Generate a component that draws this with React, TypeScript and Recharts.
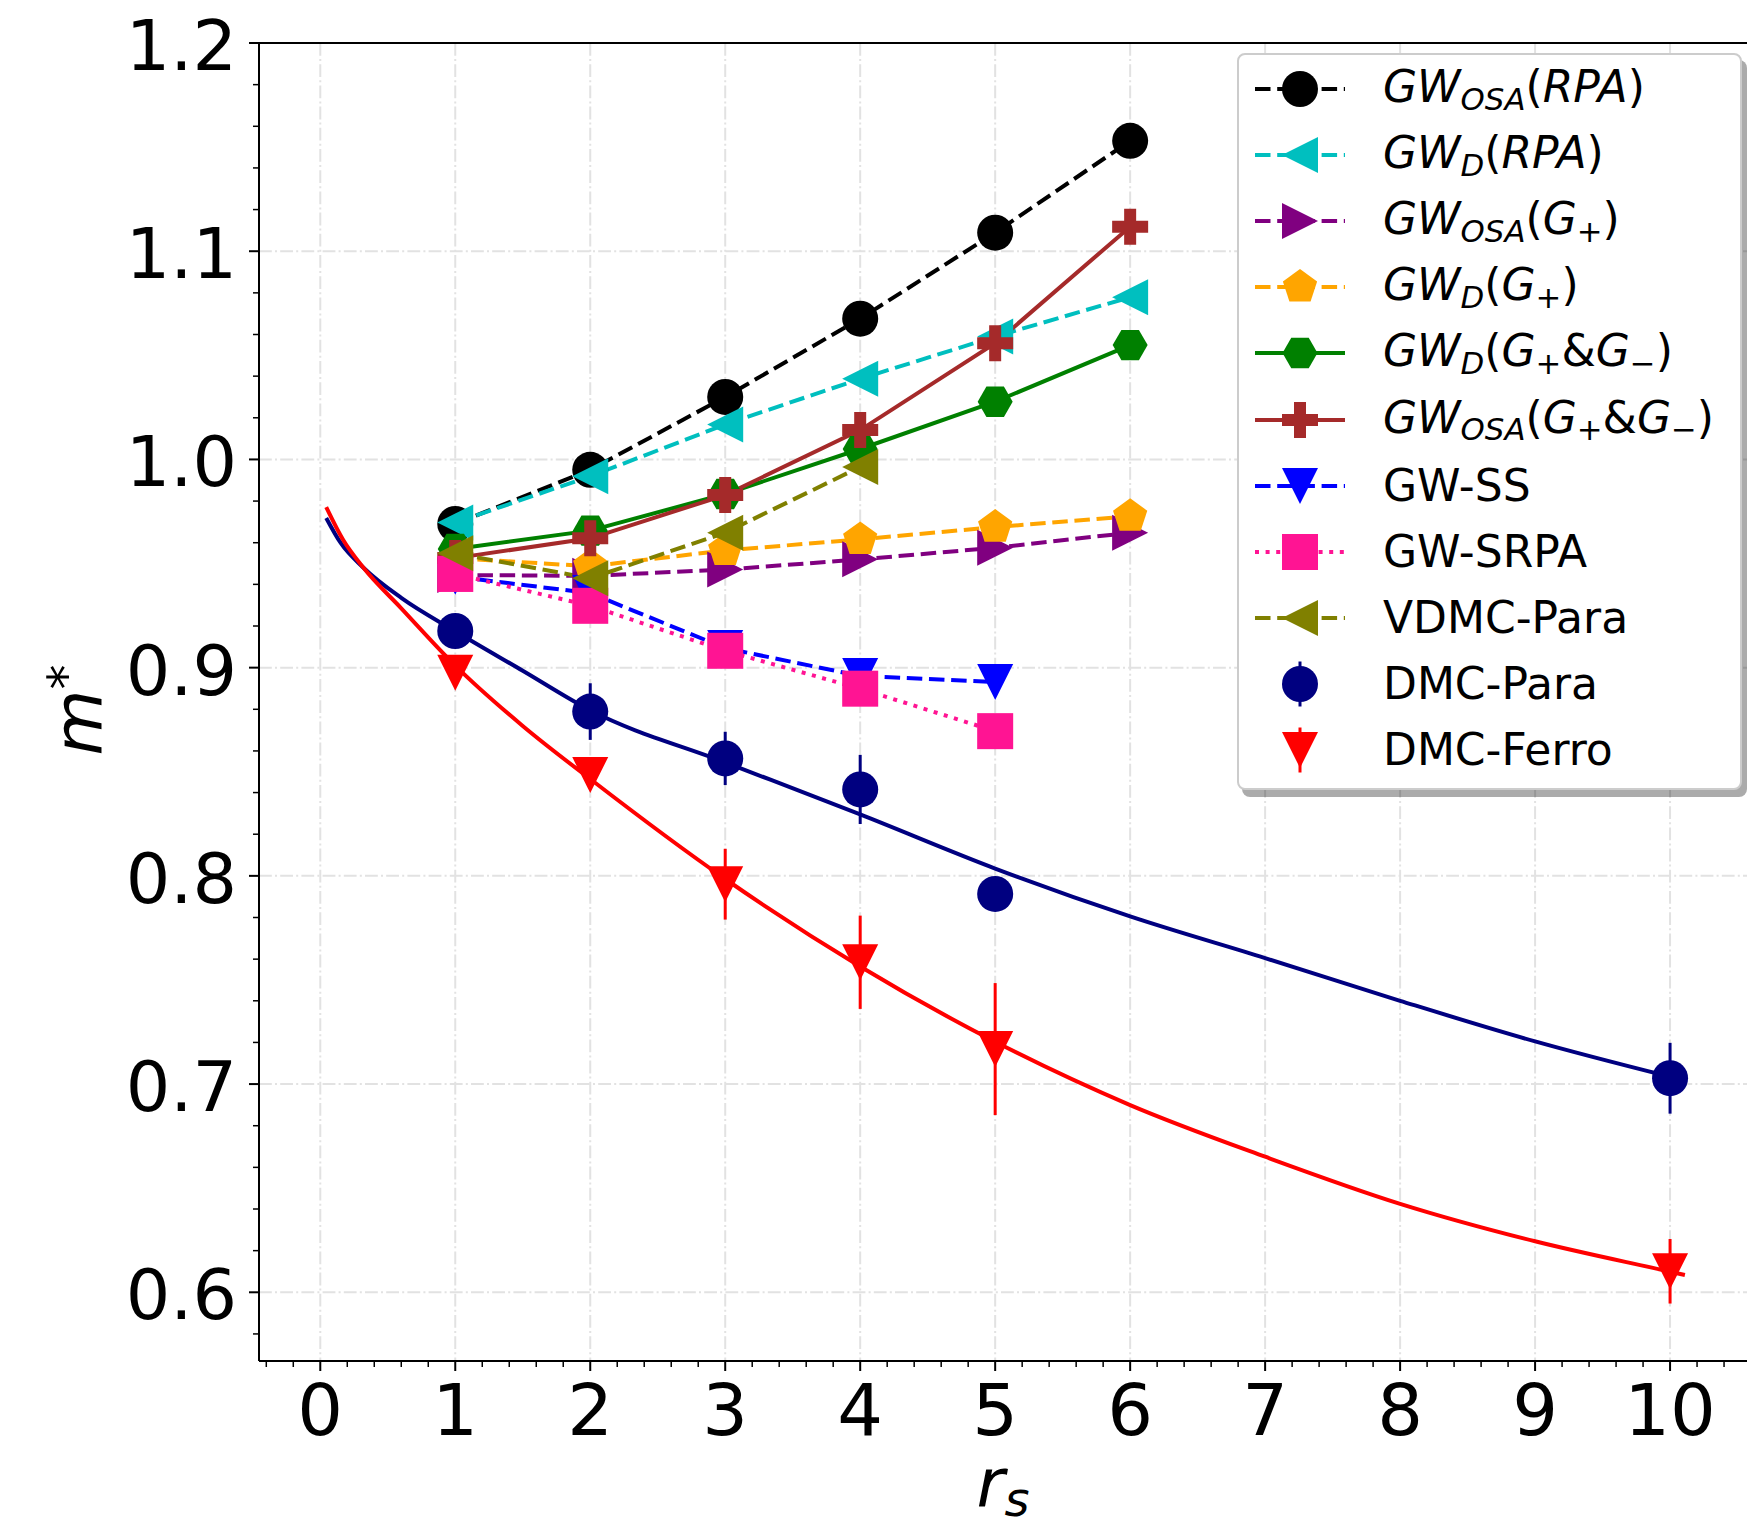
import React from "react";
import { ComposedChart, Line, XAxis, YAxis, CartesianGrid, ErrorBar, Legend, ReferenceLine } from "recharts";

// r_s values of each data set
const rsGw = [1, 2, 3, 4, 5, 6];
const rsStatic = [1, 2, 3, 4, 5];
const rsVdmc = [1, 2, 3, 4];
const rsDmc = [1, 2, 3, 4, 5, 10];

// effective mass m*
const gwOsaRpa = [0.969, 0.995, 1.03, 1.0676, 1.1089, 1.153];
const gwDRpa = [0.9697, 0.9919, 1.0168, 1.0387, 1.059, 1.0779];
const gwOsaGp = [0.9445, 0.9441, 0.9471, 0.952, 0.9576, 0.9648];
const gwDGp = [0.9526, 0.9487, 0.9563, 0.9616, 0.9675, 0.9727];
const gwDGpm = [0.957, 0.9658, 0.9834, 1.005, 1.0277, 1.0549];
const gwOsaGpm = [0.9526, 0.9621, 0.9829, 1.0141, 1.0558, 1.1118];
const gwSS = [0.9437, 0.9358, 0.9094, 0.896, 0.8931];
const gwSRPA = [0.945, 0.9297, 0.9081, 0.8899, 0.8695];
const vdmcPara = [0.9549, 0.9429, 0.9648, 0.9964];
const dmcPara = [0.9176, 0.8789, 0.8564, 0.8415, 0.7913, 0.7028];
const dmcParaErr = [0.002, 0.0136, 0.0128, 0.0166, 0.005, 0.017];
const dmcFerro = [0.8976, 0.8484, 0.796, 0.7585, 0.7168, 0.6101];
const dmcFerroErr = [0.002, 0.003, 0.017, 0.0224, 0.0317, 0.0155];

// fit curves
const fitParaX = [0.044, 0.15, 0.32, 0.6, 1, 1.5, 2, 3, 4, 5, 6, 7, 8, 9, 10];
const fitParaY = [0.9719, 0.96, 0.948, 0.9335, 0.9175, 0.8985, 0.8795, 0.8545, 0.8295, 0.8035, 0.7805, 0.7605, 0.74, 0.7205, 0.7035];
const fitFerroX = [0.044, 0.17, 0.32, 0.6, 1, 1.5, 2, 3, 4, 5, 6, 7, 8, 9, 10, 10.11];
const fitFerroY = [0.9771, 0.9613, 0.948, 0.9285, 0.901, 0.872, 0.8465, 0.7985, 0.7565, 0.7203, 0.6899, 0.6651, 0.6425, 0.6245, 0.6099, 0.6083];

// axes
const xMajor = [0, 1, 2, 3, 4, 5, 6, 7, 8, 9, 10];
const yMajor = [0.6, 0.7, 0.8, 0.9, 1.0, 1.1, 1.2];
const xTicks = Array.from({ length: 55 }, (_, i) => Math.round(-4 + i * 2) / 10);
const yTicks = Array.from({ length: 32 }, (_, i) => Math.round(58 + i * 2) / 100);

const FONT = "DejaVu Sans";
const DASHED = "15.5 6.7";
const DOTTED = "4 6.6";
const LW = 4;

const pts = (xs: number[], ys: number[], errs?: number[]) =>
  xs.map((x, i) => ({ x, y: ys[i], err: errs ? errs[i] : 0 }));

type Shape = "circle" | "left" | "right" | "down" | "pentagon" | "hexagon" | "plus" | "square";

function Marker({ shape, cx, cy, color }: { shape: Shape; cx: number; cy: number; color: string }) {
  const r = 18;
  switch (shape) {
    case "circle":
      return <circle cx={cx} cy={cy} r={r} fill={color} />;
    case "left":
      return <polygon points={`${cx - r},${cy} ${cx + r},${cy - r} ${cx + r},${cy + r}`} fill={color} />;
    case "right":
      return <polygon points={`${cx + r},${cy} ${cx - r},${cy - r} ${cx - r},${cy + r}`} fill={color} />;
    case "down":
      return <polygon points={`${cx - r},${cy - r} ${cx + r},${cy - r} ${cx},${cy + r}`} fill={color} />;
    case "square":
      return <rect x={cx - r} y={cy - r} width={2 * r} height={2 * r} fill={color} />;
    case "pentagon": {
      const p = [0, 1, 2, 3, 4]
        .map((k) => {
          const a = ((-90 + 72 * k) * Math.PI) / 180;
          return `${cx + r * Math.cos(a)},${cy + r * Math.sin(a)}`;
        })
        .join(" ");
      return <polygon points={p} fill={color} />;
    }
    case "hexagon": {
      const h = 17.5;
      const p = [0, 1, 2, 3, 4, 5]
        .map((k) => {
          const a = (60 * k * Math.PI) / 180;
          return `${cx + h * Math.cos(a)},${cy + h * Math.sin(a)}`;
        })
        .join(" ");
      return <polygon points={p} fill={color} />;
    }
    case "plus": {
      const t = r / 3;
      const p = [
        [-t, -r], [t, -r], [t, -t], [r, -t], [r, t], [t, t],
        [t, r], [-t, r], [-t, t], [-r, t], [-r, -t], [-t, -t],
      ]
        .map(([dx, dy]) => `${cx + dx},${cy + dy}`)
        .join(" ");
      return <polygon points={p} fill={color} />;
    }
  }
  return null;
}

const dotOf = (shape: Shape, color: string, name: string) => (p: any) =>
  p.cx == null ? <g key={`${name}-${p.index}`} /> : (
    <g key={`${name}-${p.index}`}>
      <Marker shape={shape} cx={p.cx} cy={p.cy} color={color} />
    </g>
  );

const I = ({ children }: { children: React.ReactNode }) => <span style={{ fontStyle: "italic" }}>{children}</span>;
const Sub = ({ children }: { children: React.ReactNode }) => (
  <span style={{ fontSize: "0.7em", position: "relative", top: "0.25em" }}>{children}</span>
);

const series = [
  { name: "osaRpa", xs: rsGw, ys: gwOsaRpa, color: "#000000", shape: "circle" as Shape, dash: DASHED,
    label: <><I>GW</I><Sub><I>OSA</I></Sub>(<I>RPA</I>)</> },
  { name: "dRpa", xs: rsGw, ys: gwDRpa, color: "#00bfbf", shape: "left" as Shape, dash: DASHED,
    label: <><I>GW</I><Sub><I>D</I></Sub>(<I>RPA</I>)</> },
  { name: "osaGp", xs: rsGw, ys: gwOsaGp, color: "#800080", shape: "right" as Shape, dash: DASHED,
    label: <><I>GW</I><Sub><I>OSA</I></Sub>(<I>G</I><Sub>+</Sub>)</> },
  { name: "dGp", xs: rsGw, ys: gwDGp, color: "#ffa500", shape: "pentagon" as Shape, dash: DASHED,
    label: <><I>GW</I><Sub><I>D</I></Sub>(<I>G</I><Sub>+</Sub>)</> },
  { name: "dGpm", xs: rsGw, ys: gwDGpm, color: "#008000", shape: "hexagon" as Shape, dash: undefined,
    label: <><I>GW</I><Sub><I>D</I></Sub>(<I>G</I><Sub>+</Sub>&amp;<I>G</I><Sub>−</Sub>)</> },
  { name: "osaGpm", xs: rsGw, ys: gwOsaGpm, color: "#a52a2a", shape: "plus" as Shape, dash: undefined,
    label: <><I>GW</I><Sub><I>OSA</I></Sub>(<I>G</I><Sub>+</Sub>&amp;<I>G</I><Sub>−</Sub>)</> },
  { name: "ss", xs: rsStatic, ys: gwSS, color: "#0000ff", shape: "down" as Shape, dash: DASHED, label: <>GW-SS</> },
  { name: "srpa", xs: rsStatic, ys: gwSRPA, color: "#ff1493", shape: "square" as Shape, dash: DOTTED, label: <>GW-SRPA</> },
  { name: "vdmc", xs: rsVdmc, ys: vdmcPara, color: "#808000", shape: "left" as Shape, dash: DASHED, label: <>VDMC-Para</> },
];

const dmcSeries = [
  { name: "dmcPara", xs: rsDmc, ys: dmcPara, errs: dmcParaErr, color: "#000080", shape: "circle" as Shape, label: <>DMC-Para</> },
  { name: "dmcFerro", xs: rsDmc, ys: dmcFerro, errs: dmcFerroErr, color: "#ff0000", shape: "down" as Shape, label: <>DMC-Ferro</> },
];

const XTick = (props: any) => {
  const { x, y, payload } = props;
  const v = payload.value;
  const major = Math.abs(v - Math.round(v)) < 1e-6;
  return (
    <g>
      <line x1={x} x2={x} y1={y} y2={y + (major ? 10 : 6)} stroke="#000" strokeWidth={major ? 2 : 1.5} />
      {major && (
        <text x={x} y={y + 74} textAnchor="middle" fontSize={72} fontFamily={FONT} fill="#000">
          {Math.round(v)}
        </text>
      )}
    </g>
  );
};

const YTick = (props: any) => {
  const { x, y, payload } = props;
  const v = payload.value;
  const major = Math.abs(v * 10 - Math.round(v * 10)) < 1e-6;
  return (
    <g>
      <line x1={x - (major ? 10 : 6)} x2={x} y1={y} y2={y} stroke="#000" strokeWidth={major ? 2 : 1.5} />
      {major && (
        <text x={x - 22} y={y + 27} textAnchor="end" fontSize={70} fontFamily={FONT} fill="#000">
          {v.toFixed(1)}
        </text>
      )}
    </g>
  );
};

const XTitle = (props: any) => {
  const vb = props.viewBox || { x: 259, y: 1361, width: 1488, height: 162 };
  return (
    <text x={vb.x + vb.width / 2} y={vb.y + 146} textAnchor="middle" fontFamily={FONT} fontSize={68} fill="#000">
      <tspan fontStyle="italic">r</tspan>
      <tspan fontStyle="italic" fontSize={48} dy={9}>s</tspan>
    </text>
  );
};

const YTitle = (props: any) => {
  const vb = props.viewBox || { x: 0, y: 43, width: 259, height: 1318 };
  const cy = vb.y + vb.height / 2 + 8;
  return (
    <text transform={`translate(102, ${cy}) rotate(-90)`} textAnchor="middle" fontFamily={FONT} fontSize={68} fill="#000">
      <tspan fontStyle="italic">m</tspan>
      <tspan fontSize={50} dy={-19}>*</tspan>
    </text>
  );
};

const Handle = ({ color, shape, dash, line, err }: { color: string; shape: Shape; dash?: string; line: boolean; err?: boolean }) => (
  <svg width={144} height={66} style={{ display: "block", flex: "none" }}>
    {line && <line x1={16} x2={106} y1={33} y2={33} stroke={color} strokeWidth={LW} strokeDasharray={dash} />}
    {err && <line x1={61} x2={61} y1={10.5} y2={55.5} stroke={color} strokeWidth={3} />}
    <Marker shape={shape} cx={61} cy={33} color={color} />
  </svg>
);

const LegendBox = () => {
  const rows = [
    ...series.map((s) => ({ key: s.name, handle: <Handle color={s.color} shape={s.shape} dash={s.dash} line />, label: s.label })),
    ...dmcSeries.map((s) => ({ key: s.name, handle: <Handle color={s.color} shape={s.shape} line={false} err />, label: s.label })),
  ];
  return (
    <div
      style={{
        position: "relative",
        width: 505,
        height: 737,
        boxSizing: "border-box",
        border: "2px solid #cccccc",
        borderRadius: 8,
        background: "#ffffff",
        boxShadow: "5px 7px 0 rgba(0,0,0,0.33)",
        fontFamily: FONT,
        fontSize: 44,
        color: "#000",
      }}
    >
      {rows.map((r, i) => (
        <div
          key={r.key}
          style={{ position: "absolute", left: 0, top: 1 + 66.1 * i, height: 66, display: "flex", alignItems: "center", whiteSpace: "nowrap" }}
        >
          {r.handle}
          <span style={{ lineHeight: "66px" }}>{r.label}</span>
        </div>
      ))}
    </div>
  );
};

export default function App() {
  return (
    <div style={{ position: "absolute", left: 0, top: 0, background: "#fff" }}>
      <ComposedChart width={1747} height={1523} margin={{ top: 43, right: 0, bottom: 0, left: 0 }}>
        <CartesianGrid
          horizontalValues={yMajor}
          verticalValues={xMajor}
          stroke="#e2e2e2"
          strokeWidth={2}
          strokeDasharray="12.8 3.2 2 3.2"
        />
        <XAxis
          dataKey="x"
          type="number"
          domain={[-0.454, 10.57]}
          allowDataOverflow
          ticks={xTicks}
          interval={0}
          tickSize={0}
          tickMargin={0}
          tickLine={false}
          tick={(p: any) => <XTick {...p} />}
          axisLine={{ stroke: "#000", strokeWidth: 2 }}
          height={162}
          label={<XTitle />}
        />
        <YAxis
          type="number"
          domain={[0.567, 1.2]}
          allowDataOverflow
          ticks={yTicks}
          interval={0}
          tickSize={0}
          tickMargin={0}
          tickLine={false}
          tick={(p: any) => <YTick {...p} />}
          axisLine={{ stroke: "#000", strokeWidth: 2 }}
          width={259}
          label={<YTitle />}
        />
        <ReferenceLine y={1.2} stroke="#000" strokeWidth={2} />
        <Line
          data={pts(fitParaX, fitParaY)}
          dataKey="y"
          type="monotone"
          stroke="#000080"
          strokeWidth={4}
          dot={false}
          activeDot={false}
          isAnimationActive={false}
        />
        <Line
          data={pts(fitFerroX, fitFerroY)}
          dataKey="y"
          type="monotone"
          stroke="#ff0000"
          strokeWidth={4}
          dot={false}
          activeDot={false}
          isAnimationActive={false}
        />
        {series.map((s) => (
          <Line
            key={s.name}
            data={pts(s.xs, s.ys)}
            dataKey="y"
            type="linear"
            stroke={s.color}
            strokeWidth={LW}
            strokeDasharray={s.dash}
            dot={dotOf(s.shape, s.color, s.name)}
            activeDot={false}
            isAnimationActive={false}
          />
        ))}
        {dmcSeries.map((s) => (
          <Line
            key={s.name}
            data={pts(s.xs, s.ys, s.errs)}
            dataKey="y"
            stroke="none"
            strokeWidth={0}
            dot={dotOf(s.shape, s.color, s.name)}
            activeDot={false}
            isAnimationActive={false}
          >
            <ErrorBar dataKey="err" direction="y" width={0} stroke={s.color} strokeWidth={3} />
          </Line>
        ))}
        <Legend
          layout="vertical"
          align="center"
          verticalAlign="middle"
          content={() => <LegendBox />}
          wrapperStyle={{ left: 1237, top: 53, width: 505, height: 737, margin: 0 }}
        />
      </ComposedChart>
    </div>
  );
}
